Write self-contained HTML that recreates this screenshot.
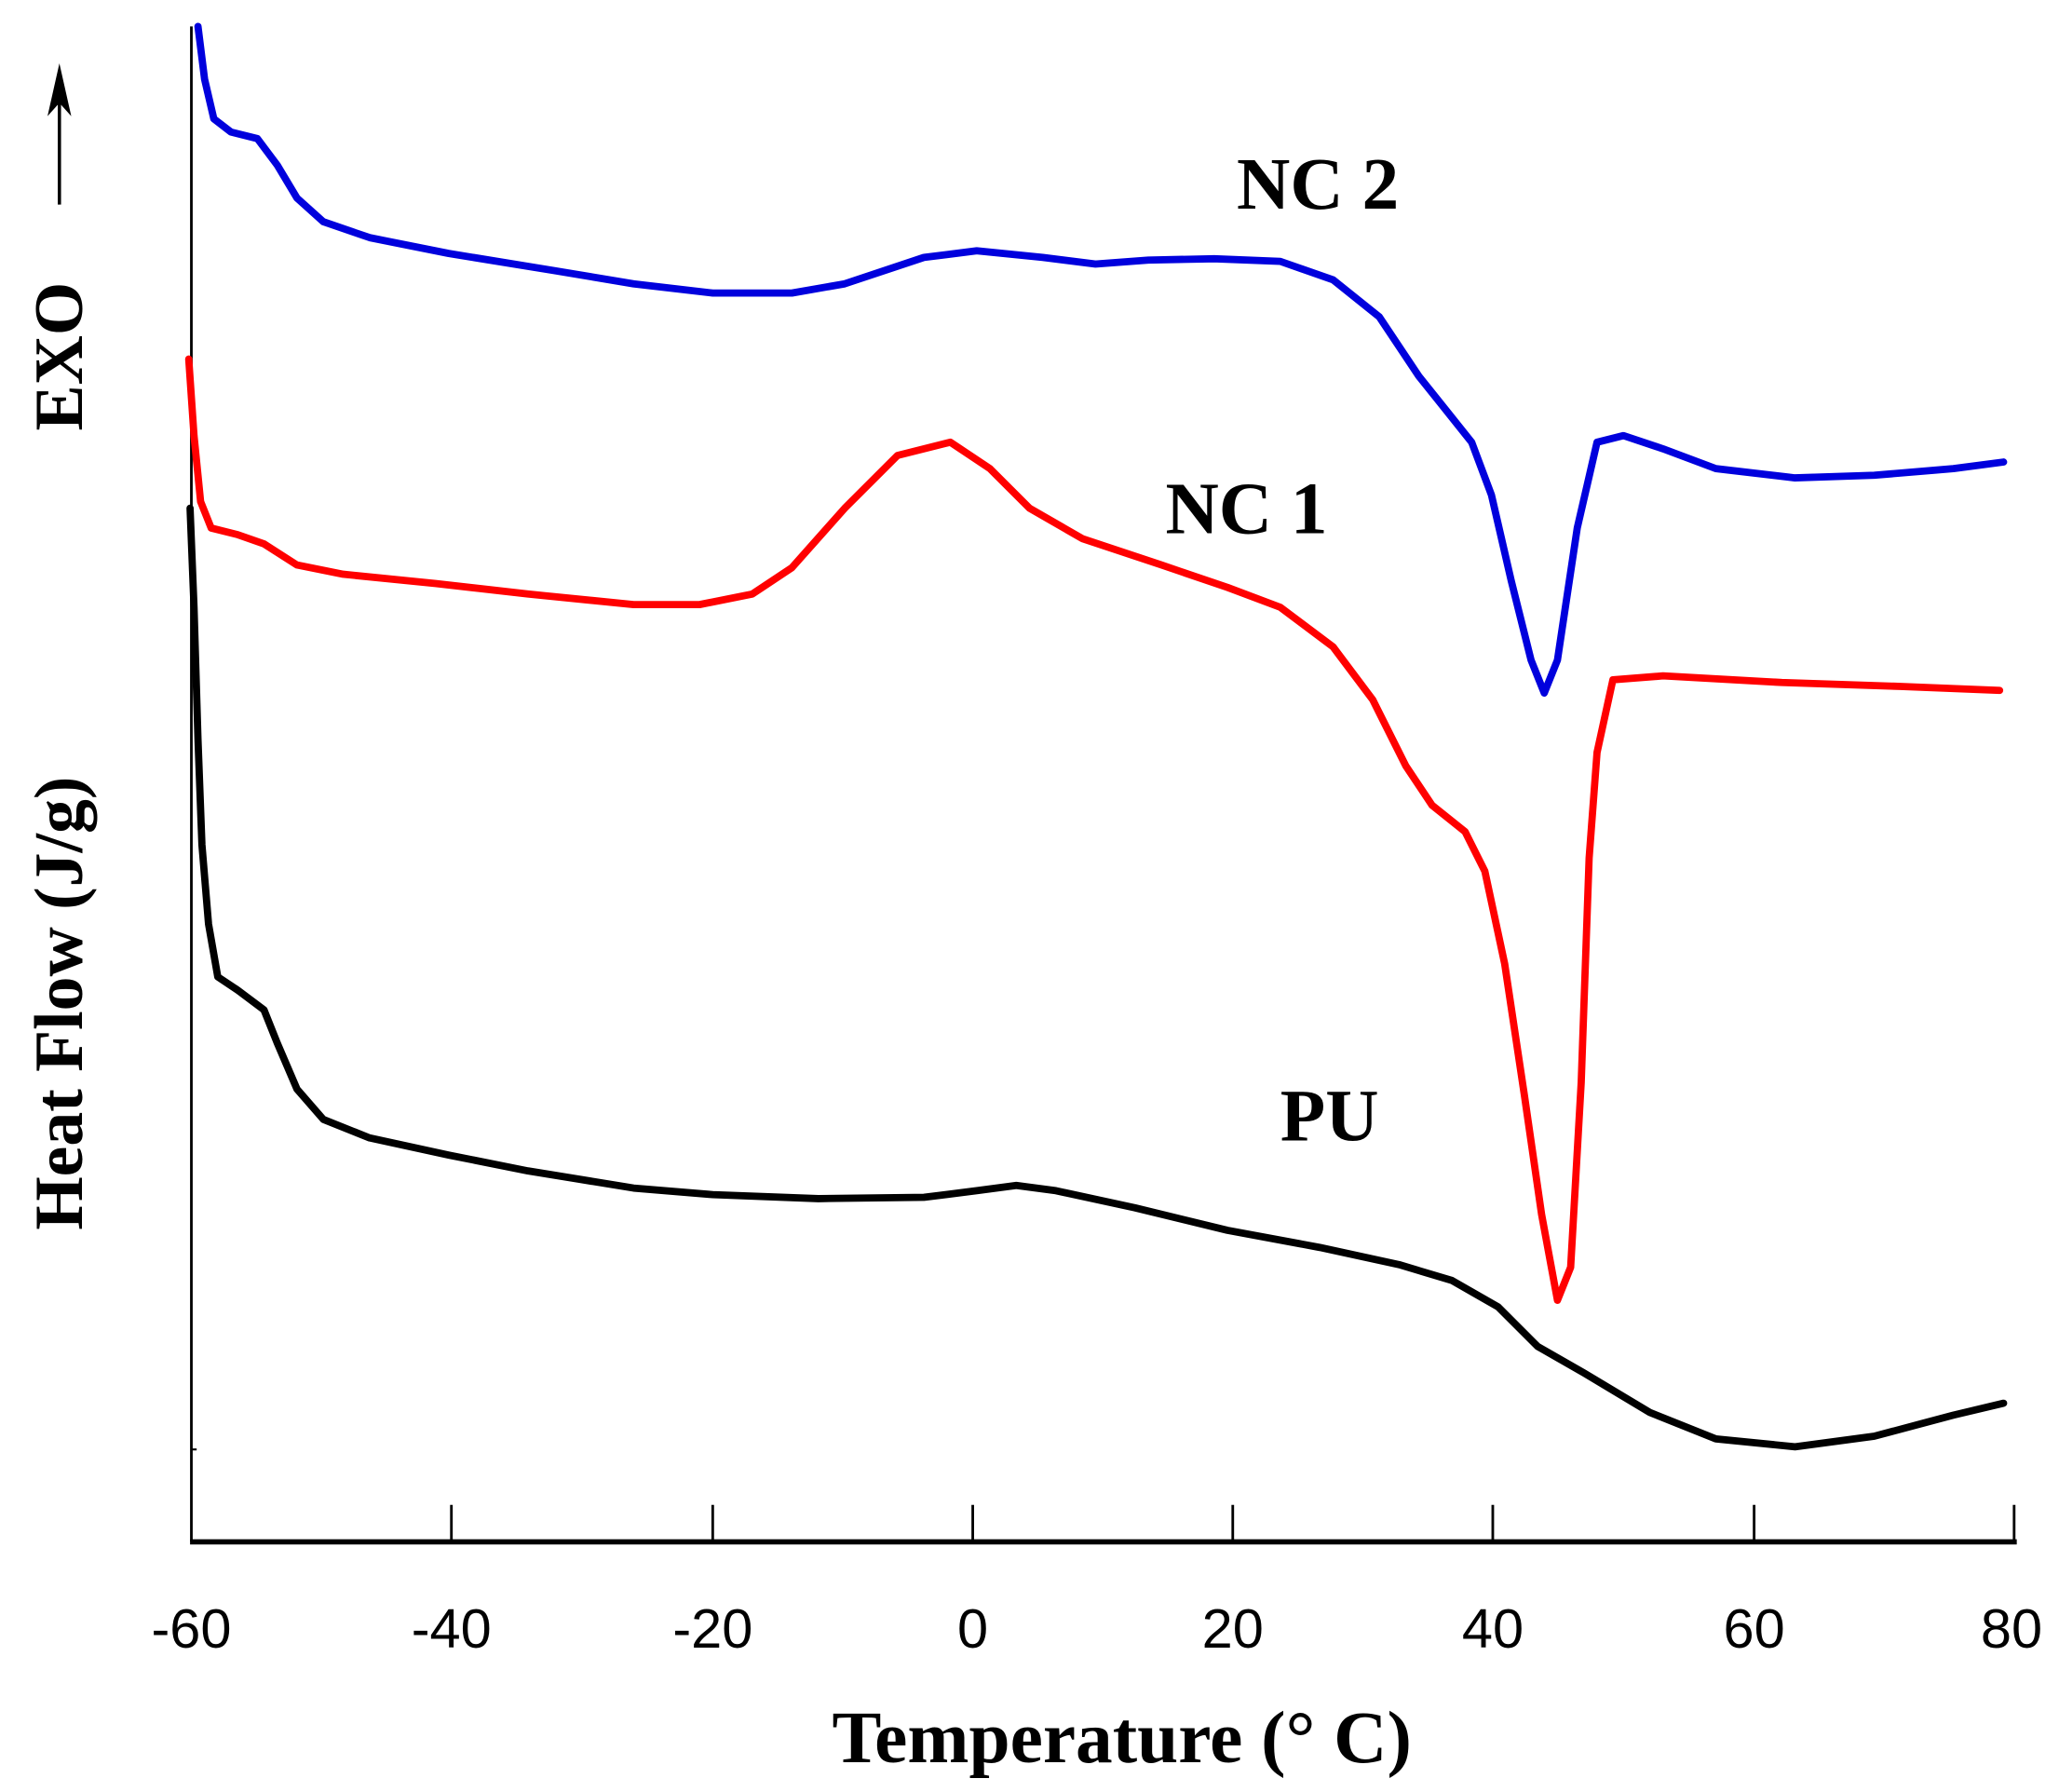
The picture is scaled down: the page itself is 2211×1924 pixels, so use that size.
<!DOCTYPE html>
<html><head><meta charset="utf-8"><style>html,body{margin:0;padding:0;background:#fff}svg{display:block}</style></head>
<body>
<svg width="2211" height="1924" viewBox="0 0 1560 1357.5" xmlns="http://www.w3.org/2000/svg">
<rect width="1560" height="1357.5" fill="#fff"/>
<line x1="145" y1="20" x2="145" y2="1168" stroke="#000" stroke-width="2"/>
<line x1="145" y1="1098" x2="149" y2="1098" stroke="#000" stroke-width="1.5"/>
<line x1="144" y1="1168" x2="1528" y2="1168" stroke="#000" stroke-width="4"/>
<g stroke="#000" stroke-width="2">
<line x1="342" y1="1140" x2="342" y2="1168"/><line x1="540" y1="1140" x2="540" y2="1168"/>
<line x1="737" y1="1140" x2="737" y2="1168"/><line x1="934" y1="1140" x2="934" y2="1168"/>
<line x1="1131" y1="1140" x2="1131" y2="1168"/><line x1="1329" y1="1140" x2="1329" y2="1168"/>
<line x1="1526" y1="1140" x2="1526" y2="1168"/>
</g>
<g font-family="Liberation Sans, sans-serif" font-size="42" text-anchor="middle">
<text x="145" y="1248">-60</text><text x="342" y="1248">-40</text><text x="540" y="1248">-20</text>
<text x="737" y="1248">0</text><text x="934" y="1248">20</text><text x="1131" y="1248">40</text>
<text x="1329" y="1248">60</text><text x="1524" y="1248">80</text>
</g>
<text x="850" y="1335" font-family="Liberation Serif, serif" font-weight="bold" font-size="56" text-anchor="middle">Temperature (° C)</text>
<text transform="translate(62,760) rotate(-90)" font-family="Liberation Serif, serif" font-weight="bold" font-size="52" text-anchor="middle">Heat Flow (J/g)</text>
<text transform="translate(62,270) rotate(-90)" font-family="Liberation Serif, serif" font-weight="bold" font-size="52" text-anchor="middle">EXO</text>
<line x1="45" y1="155" x2="45" y2="62" stroke="#000" stroke-width="2.5"/>
<polygon points="45,48 36,88 45,78 54,88" fill="#000"/>
<g font-family="Liberation Serif, serif" font-weight="bold" font-size="56">
<text x="937" y="158">NC 2</text><text x="883" y="404">NC 1</text><text x="970" y="864">PU</text>
</g>
<g fill="none" stroke-width="5.5" stroke-linejoin="round" stroke-linecap="round">
<polyline stroke="#0000dd" points="150,20 155,60 162,90 175,100 195,105 210,125 225,150 245,168 280,180 340,192 420,205 480,215 540,222 600,222 640,215 700,195 740,190 790,195 830,200 870,197 920,196 970,198 1010,212 1045,240 1075,285 1095,310 1115,335 1130,375 1145,440 1160,500 1170,525 1180,500 1195,400 1210,335 1230,330 1260,340 1300,355 1360,362 1420,360 1480,355 1518,350"/>
<polyline stroke="#ff0000" points="143,272 147,330 152,380 160,400 180,405 200,412 225,428 260,435 330,442 400,450 480,458 530,458 570,450 600,430 640,385 680,345 720,335 750,355 780,385 820,408 880,428 930,445 970,460 1010,490 1040,530 1065,580 1085,610 1110,630 1125,660 1140,730 1155,830 1168,920 1180,985 1190,960 1198,820 1204,650 1210,570 1222,515 1260,512 1350,517 1440,520 1515,523"/>
<polyline stroke="#000" points="144,385 147,460 150,560 153,640 158,700 165,740 180,750 200,765 210,790 225,825 245,848 280,862 340,875 400,887 480,900 540,905 620,908 700,907 740,902 770,898 800,902 860,915 930,932 1000,945 1060,958 1100,970 1135,990 1165,1020 1200,1040 1250,1070 1300,1090 1360,1096 1420,1088 1480,1072 1518,1063"/>
</g>
</svg>
</body></html>
